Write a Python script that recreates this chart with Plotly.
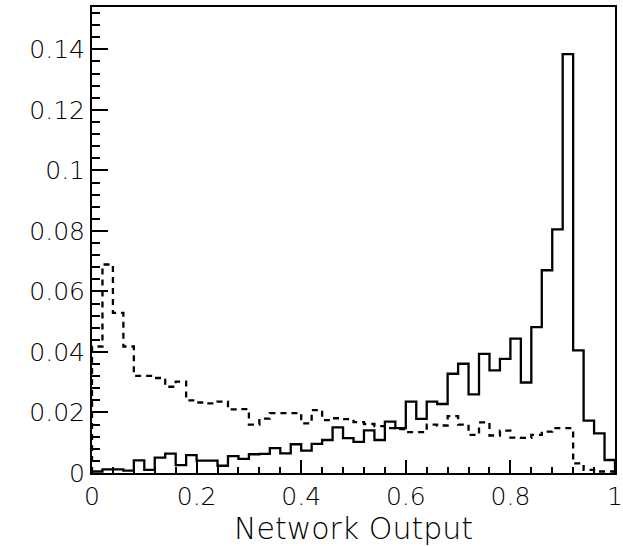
import plotly.graph_objects as go

# bin left edges (bin width 0.02)
bin_edges = [0.00, 0.02, 0.04, 0.06, 0.08, 0.10, 0.12, 0.14, 0.16, 0.18,
             0.20, 0.22, 0.24, 0.26, 0.28, 0.30, 0.32, 0.34, 0.36, 0.38,
             0.40, 0.42, 0.44, 0.46, 0.48, 0.50, 0.52, 0.54, 0.56, 0.58,
             0.60, 0.62, 0.64, 0.66, 0.68, 0.70, 0.72, 0.74, 0.76, 0.78,
             0.80, 0.82, 0.84, 0.86, 0.88, 0.90, 0.92, 0.94, 0.96, 0.98, 1.00]

# solid histogram (signal)
signal = [0.0005, 0.0012, 0.0012, 0.0008, 0.0042, 0.0010, 0.0051, 0.0064, 0.0026, 0.0059,
          0.0041, 0.0041, 0.0024, 0.0056, 0.0047, 0.0062, 0.0063, 0.0082, 0.0065, 0.0095,
          0.0074, 0.0096, 0.0109, 0.0151, 0.0115, 0.0103, 0.0141, 0.0109, 0.0170, 0.0148,
          0.0236, 0.0179, 0.0236, 0.0228, 0.0328, 0.0361, 0.0260, 0.0394, 0.0339, 0.0377,
          0.0444, 0.0299, 0.0482, 0.0670, 0.0805, 0.1384, 0.0405, 0.0173, 0.0131, 0.0043]

# dashed histogram (background)
background = [0.0418, 0.0689, 0.0529, 0.0418, 0.0321, 0.0321, 0.0314, 0.0285, 0.0302, 0.0240,
              0.0233, 0.0230, 0.0236, 0.0210, 0.0211, 0.0160, 0.0180, 0.0198, 0.0198, 0.0198,
              0.0164, 0.0208, 0.0175, 0.0181, 0.0178, 0.0168, 0.0162, 0.0155, 0.0148, 0.0145,
              0.0135, 0.0135, 0.0160, 0.0157, 0.0188, 0.0160, 0.0126, 0.0167, 0.0124, 0.0140,
              0.0117, 0.0116, 0.0126, 0.0137, 0.0148, 0.0148, 0.0032, 0.0010, 0.0005, 0.0005]

x_ticks = [0, 0.2, 0.4, 0.6, 0.8, 1]
x_labels = ["0", "0.2", "0.4", "0.6", "0.8", "1"]
y_ticks = [0, 0.02, 0.04, 0.06, 0.08, 0.1, 0.12, 0.14]
y_labels = ["0", "0.02", "0.04", "0.06", "0.08", "0.1", "0.12", "0.14"]


def step_xy(edges, vals):
    xs = [edges[0]] + list(edges) + [edges[-1]]
    ys = [0] + list(vals) + [vals[-1], 0]
    return xs, ys


fig = go.Figure()
sx, sy = step_xy(bin_edges, background)
fig.add_trace(go.Scatter(x=sx, y=sy, mode="lines", line_shape="hv",
                         line=dict(color="black", width=2.3, dash="6px,5px"),
                         showlegend=False, hoverinfo="skip"))
sx, sy = step_xy(bin_edges, signal)
fig.add_trace(go.Scatter(x=sx, y=sy, mode="lines", line_shape="hv",
                         line=dict(color="black", width=2.3),
                         showlegend=False, hoverinfo="skip"))

tick_font = dict(size=25, family="DejaVu Sans", color="black", weight=200)

fig.update_layout(
    width=623, height=546,
    margin=dict(l=92, r=0, t=7, b=73),
    paper_bgcolor="white", plot_bgcolor="white",
    font=dict(family="DejaVu Sans", color="black"),
    xaxis=dict(range=[0, 1], tickvals=x_ticks, ticktext=x_labels,
               ticks="inside", ticklen=13, tickwidth=1.5, tickcolor="black",
               minor=dict(dtick=0.04, ticks="inside", ticklen=6, tickwidth=1.5, tickcolor="black"),
               showline=True, linewidth=2, linecolor="black", mirror=True,
               showgrid=False, zeroline=False, ticklabeloverflow="allow",
               tickfont=tick_font,
               title=dict(text="Network Output",
                          font=dict(size=30, family="DejaVu Sans", color="black", weight=200),
                          standoff=9)),
    yaxis=dict(range=[0, 0.154], tickvals=y_ticks, ticktext=y_labels,
               ticks="inside", ticklen=16, tickwidth=1.5, tickcolor="black",
               minor=dict(dtick=0.004, ticks="inside", ticklen=8, tickwidth=1.5, tickcolor="black"),
               showline=True, linewidth=2, linecolor="black", mirror=True,
               showgrid=False, zeroline=False,
               tickfont=tick_font),
)

fig.write_html("out.html")
